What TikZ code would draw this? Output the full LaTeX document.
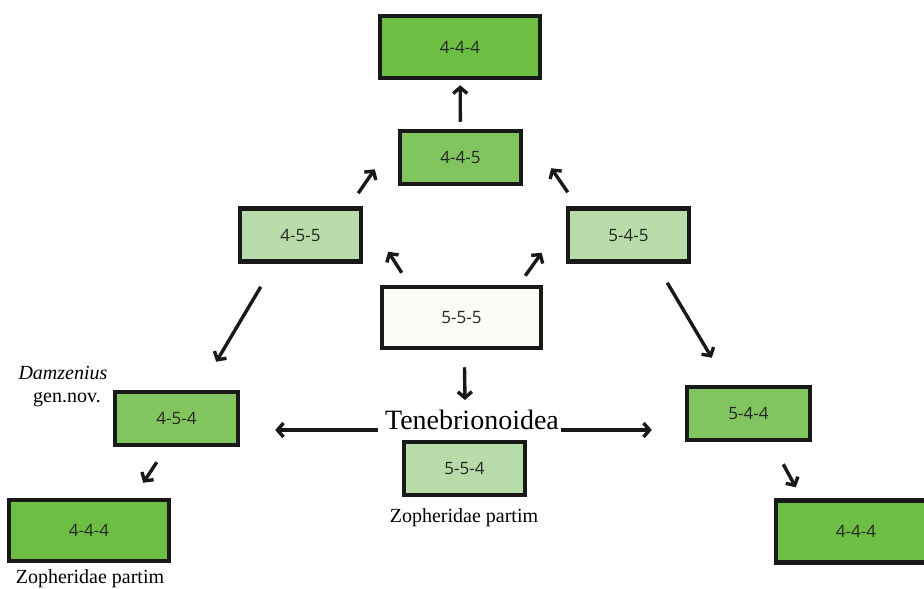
\documentclass[tikz,border=0pt]{standalone}
\usepackage{fontspec}
\setmainfont{Liberation Serif}
\newfontfamily\boxfont{Open Sans}
\usepackage{tikz}
\usetikzlibrary{arrows.meta}

\definecolor{gdark}{HTML}{6DBF44}
\definecolor{gmid}{HTML}{80C55E}
\definecolor{glight}{HTML}{B7DCA9}
\definecolor{gwhite}{HTML}{F9FCF7}

\begin{document}
\begin{tikzpicture}[x=1pt, y=-1pt,
    box/.style={draw=black!90, line width=4.5pt, text=black!85,
      font=\boxfont\fontsize{17}{19}\selectfont},
    wide/.style={box, minimum width=160pt, minimum height=62pt},
    narrow/.style={box, minimum width=121pt, minimum height=53pt},
    lab/.style={inner sep=0pt, font=\fontsize{20}{22}\selectfont},
    arr/.style={line width=3.4pt, black!90, -{Straight Barb[length=6pt, width=14pt]}}
  ]
  \clip (0,0) rectangle (924,589);

  \node[wide, fill=gdark] (top) at (460,47) {4-4-4};
  \node[narrow, fill=gmid] (n445) at (460.5,157.5) {4-4-5};
  \node[narrow, fill=glight] (n455) at (300.5,235) {4-5-5};
  \node[narrow, fill=glight] (n545) at (628.5,235) {5-4-5};
  \node[wide, fill=gwhite, minimum height=61pt, minimum width=159pt] (n555) at (461.5,317.5) {5-5-5};
  \node[narrow, fill=gmid, minimum width=123pt] (n454) at (176.5,418.5) {4-5-4};
  \node[narrow, fill=gmid, minimum width=123pt] (n544) at (748.5,413.5) {5-4-4};
  \node[narrow, fill=glight] (n554) at (464.5,468.5) {5-5-4};
  \node[wide, fill=gdark, minimum height=61pt] (bl) at (89,530.5) {4-4-4};
  \node[wide, fill=gdark] (br) at (856,531.5) {4-4-4};

  \node[lab, font=\fontsize{28}{30}\selectfont] (ten) at (472,420) {Tenebrionoidea};
  \node[lab] (dam) at (63,373) {\itshape Damzenius};
  \node[lab] (gen) at (67,400) {gen.nov.};
  \node[lab] (zop1) at (464,518) {Zopheridae partim};
  \node[lab] (zop2) at (90,579) {Zopheridae partim};

  \draw[arr, shorten <=7pt, shorten >=5pt] (n445) -- (top);
  \draw[arr] ([shift={(-5,-13)}]n455.north east) -- ([shift={(-23,-17)}]n445.south west);
  \draw[arr] ([shift={(2,-14)}]n545.north west) -- ([shift={(28,-18)}]n445.south east);
  \draw[arr] ([shift={(22,-12)}]n555.north west) -- ([shift={(25,-12)}]n455.south east);
  \draw[arr] ([shift={(-18,-9)}]n555.north east) -- ([shift={(-24,-11)}]n545.south west);
  \draw[arr] ([shift={(23,23)}]n455.south west) -- ([shift={(-24,-28)}]n454.north east);
  \draw[arr] ([shift={(-24,19)}]n545.south east) -- ([shift={(27,-27)}]n544.north west);
  \draw[arr] ([shift={(3,17)}]n555.south) -- ([shift={(-7,-20)}]ten.center);
  \draw[arr] ([shift={(-7,10)}]ten.west) -- ([shift={(35,11.5)}]n454.east);
  \draw[arr] ([shift={(2,10)}]ten.east) -- ([shift={(-33,16.5)}]n544.west);
  \draw[arr] ([shift={(44,15)}]n454.south west) -- ([shift={(-28,-15)}]bl.north east);
  \draw[arr] ([shift={(-29,22)}]n544.south east) -- ([shift={(22,-11)}]br.north west);
\end{tikzpicture}
\end{document}
